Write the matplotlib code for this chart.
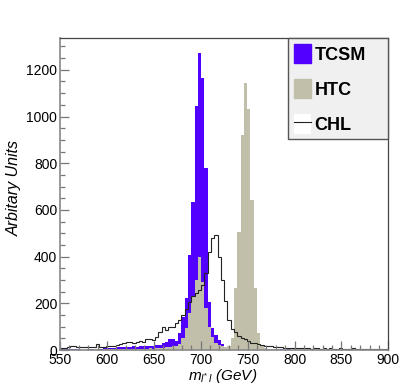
import numpy as np
import matplotlib
matplotlib.use("Agg")
import matplotlib.pyplot as plt
from matplotlib.patches import Patch
from matplotlib.lines import Line2D

plt.rcParams['font.family'] = ['Liberation Sans', 'DejaVu Sans']
plt.rcParams['mathtext.fontset'] = 'custom'
plt.rcParams['mathtext.it'] = 'Liberation Sans:italic'
plt.rcParams['mathtext.rm'] = 'Liberation Sans'

# histogram range: 100 bins from 550 to 900 GeV
m_lo, m_hi, n_bins = 550, 900, 100

# TCSM (filled, blue)
tcsm = [5, 6, 6, 5, 4, 3, 2, 2, 3, 4,
        5, 3, 4, 8, 10, 10, 10, 13, 14, 14,
        13, 14, 15, 14, 15, 17, 17, 18, 17, 20,
        22, 28, 36, 45, 45, 40, 71, 140, 221, 407,
        636, 1047, 1271, 1164, 781, 207, 93, 64, 43, 26,
        12, 6, 3, 2, 2, 1, 1, 0, 1, 0,
        1, 0, 0, 1, 0, 1, 2, 3, 2, 3,
        2, 1, 0, 1, 0, 0, 1, 0, 0, 1,
        0, 0, 1, 0, 0, 0, 1, 0, 0, 0,
        0, 1, 0, 0, 0, 0, 0, 1, 0, 0]

# HTC (filled, khaki)
htc = [1, 2, 1, 2, 2, 1, 2, 2, 3, 2,
       3, 3, 2, 3, 4, 3, 3, 4, 4, 3,
       4, 5, 4, 5, 6, 5, 6, 7, 6, 8,
       9, 10, 12, 14, 16, 18, 25, 50, 95, 160,
       230, 300, 400, 290, 180, 100, 55, 30, 20, 15,
       14, 18, 50, 264, 507, 921, 1143, 1033, 643, 264,
       71, 22, 9, 5, 4, 3, 3, 2, 2, 2,
       1, 2, 1, 1, 1, 1, 0, 1, 1, 0,
       1, 0, 0, 1, 0, 0, 0, 1, 0, 0,
       0, 0, 1, 0, 0, 0, 0, 0, 0, 0]

# CHL (line only)
chl = [7, 8, 12, 17, 17, 14, 14, 14, 14, 14,
       14, 24, 14, 14, 18, 17, 17, 20, 24, 28,
       33, 33, 29, 36, 40, 36, 45, 45, 43, 57,
       79, 100, 86, 100, 100, 114, 129, 150, 175, 205,
       230, 245, 255, 280, 330, 420, 480, 493, 400, 300,
       210, 130, 92, 75, 62, 52, 45, 38, 32, 28,
       24, 21, 19, 17, 15, 13, 12, 11, 10, 10,
       9, 8, 8, 7, 8, 7, 6, 7, 8, 6,
       7, 6, 7, 5, 6, 7, 6, 5, 6, 7,
       5, 6, 5, 6, 5, 4, 6, 5, 5, 4]

labels = ['TCSM', 'HTC', 'CHL']
blue = '#5200ff'
tan = '#c1bfa9'

edges = np.linspace(m_lo, m_hi, n_bins + 1)

fig = plt.figure(figsize=(4.09, 3.89), dpi=100)
ax = fig.add_axes([60/409, 1-350/389, 328.3/409, 311.7/389])

ax.stairs(tcsm, edges, fill=True, color=blue, lw=0)
ax.stairs(htc, edges, fill=True, color=tan, lw=0)
ax.stairs(chl, edges, color='#222222', lw=0.8)

ax.set_xlim(m_lo, m_hi)
ax.set_ylim(0, 1335)
ax.set_xticks(np.arange(550, 901, 50))
ax.set_xticks(np.arange(550, 901, 10), minor=True)
ax.set_yticks(np.arange(0, 1201, 200))
ax.set_yticks(np.arange(0, 1301, 50), minor=True)
ax.tick_params(which='both', direction='in', colors='#777777', labelcolor='black',
               labelsize=10, pad=2, top=False, right=False)
ax.tick_params(which='major', length=6.5, width=0.9)
ax.tick_params(which='minor', length=3.5, width=0.9)
for side in ['left', 'bottom']:
    ax.spines[side].set_color('#888888')
    ax.spines[side].set_linewidth(1.2)
for side in ['top', 'right']:
    ax.spines[side].set_color('#444444')
    ax.spines[side].set_linewidth(0.9)

fig.text(223/409, 1-376/389, r'$m_{l^{*}\,l}$ (GeV)', ha='center', va='center',
         fontsize=11, style='italic')
fig.text(14/409, 1-188/389, 'Arbitary Units', ha='center', va='center',
         rotation=90, fontsize=11.5, style='italic')

handles = [Patch(facecolor=blue, edgecolor=blue),
           Patch(facecolor=tan, edgecolor=tan),
           (Patch(facecolor='white', edgecolor='none'),
            Line2D([], [], color='#222222', lw=0.8))]
leg = ax.legend(handles, labels, loc='upper left',
                bbox_to_anchor=(0.6954, 0.673, 0.3046, 0.327), mode='expand',
                borderaxespad=0, fancybox=False, framealpha=1,
                facecolor='#f0f0f0', edgecolor='#555555',
                prop={'weight': 'bold', 'size': 13},
                handlelength=0.95, handleheight=1.3, handletextpad=0.2,
                labelspacing=0.84, borderpad=0.3)
leg.get_frame().set_linewidth(1.0)

fig.savefig('out.png', dpi=100)
